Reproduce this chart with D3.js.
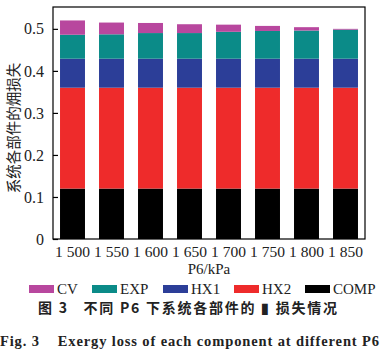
<!DOCTYPE html>
<html><head><meta charset="utf-8">
<script src="https://cdn.jsdelivr.net/npm/d3@7"></script>
<style>body{margin:0;background:#fff}svg{display:block}</style>
</head><body>
<script>
const categories = ["1 500","1 550","1 600","1 650","1 700","1 750","1 800","1 850"];
const seriesNames = ["COMP","HX2","HX1","EXP","CV"];
const COMP = [0.120,0.120,0.120,0.120,0.120,0.120,0.120,0.120];
const HX2  = [0.240,0.240,0.240,0.240,0.240,0.240,0.240,0.240];
const HX1  = [0.069,0.069,0.069,0.069,0.069,0.069,0.069,0.069];
const EXP  = [0.057,0.058,0.061,0.061,0.064,0.066,0.067,0.069];
const CV   = [0.034,0.028,0.024,0.021,0.017,0.012,0.008,0.002];
const yTicks = [0,0.1,0.2,0.3,0.4,0.5];
const legendOrder = ["CV","EXP","HX1","HX2","COMP"];
const colors = {CV:"#b8479e",EXP:"#0b8b88",HX1:"#2c3e98",HX2:"#ee2b2b",COMP:"#000000"};

const rows = categories.map((c,i)=>({cat:c,COMP:COMP[i],HX2:HX2[i],HX1:HX1[i],EXP:EXP[i],CV:CV[i]}));
const W=383,H=355;
const m={left:53,right:18,top:7,bottom:116};
const svg=d3.select("body").append("svg").attr("width",W).attr("height",H);
const serif="'Liberation Serif','Times New Roman','Noto Sans CJK SC',serif";

const x=d3.scaleBand().domain(categories).range([m.left,W-m.right]).paddingInner(0.36).paddingOuter(0.18);
const y=d3.scaleLinear().domain([0,0.552]).range([H-m.bottom,m.top]);

const stack=d3.stack().keys(seriesNames)(rows);
svg.append("g").selectAll("g").data(stack).join("g").attr("fill",d=>colors[d.key])
  .selectAll("rect").data(d=>d).join("rect")
  .attr("x",d=>x(d.data.cat)).attr("width",x.bandwidth())
  .attr("y",d=>y(d[1])).attr("height",d=>y(d[0])-y(d[1]));

// frame
svg.append("rect").attr("x",m.left).attr("y",m.top).attr("width",W-m.right-m.left).attr("height",H-m.bottom-m.top)
  .attr("fill","none").attr("stroke","#000").attr("stroke-width",1.2);

const yAxis=d3.axisLeft(y).tickValues(yTicks).tickSizeInner(-5).tickSizeOuter(0).tickPadding(9)
  .tickFormat(d=>d===0?"0":d3.format(".1f")(d));
const ga=svg.append("g").attr("transform",`translate(${m.left},0)`).call(yAxis);
ga.select(".domain").remove();
ga.selectAll("line").attr("stroke","#000").attr("stroke-width",1.2);
ga.selectAll("text").attr("font-family",serif).attr("font-size",16).attr("fill","#222");

const xAxis=d3.axisBottom(x).tickSize(0).tickPadding(7);
const gx=svg.append("g").attr("transform",`translate(0,${H-m.bottom})`).call(xAxis);
gx.select(".domain").remove();
gx.selectAll("text").attr("font-family",serif).attr("font-size",15.5).attr("fill","#222");

svg.append("text").attr("x",(m.left+W-m.right)/2).attr("y",274).attr("text-anchor","middle")
  .attr("font-family",serif).attr("font-size",15).attr("fill","#222").text("P6/kPa");

svg.append("text").attr("transform",`translate(19,128) rotate(-90)`).attr("text-anchor","middle")
  .attr("font-family",serif).attr("font-size",14.5).attr("fill","#222").text("系统各部件的㶲损失");

// legend
const legX={CV:29,EXP:92,HX1:163,HX2:234,COMP:305};
const lg=svg.append("g");
legendOrder.forEach(k=>{
  lg.append("rect").attr("x",legX[k]).attr("y",285).attr("width",25).attr("height",8).attr("fill",colors[k]);
  lg.append("text").attr("x",legX[k]+28).attr("y",294).attr("font-family",serif).attr("font-size",15).attr("fill","#222").text(k);
});

svg.append("text").attr("x",38).attr("y",313).attr("font-family","'Noto Sans CJK SC',sans-serif").attr("font-weight","bold")
  .attr("font-size",14).attr("textLength",299).attr("lengthAdjust","spacing").attr("fill","#222").attr("xml:space","preserve").text("图 3   不同 P6 下系统各部件的 ▮ 损失情况");
svg.append("text").attr("x",0).attr("y",346).attr("font-family",serif).attr("font-weight","bold")
  .attr("font-size",14.5).attr("textLength",379).attr("lengthAdjust","spacing").attr("fill","#222").attr("xml:space","preserve").text("Fig. 3    Exergy loss of each component at different P6");
</script>
</body></html>
